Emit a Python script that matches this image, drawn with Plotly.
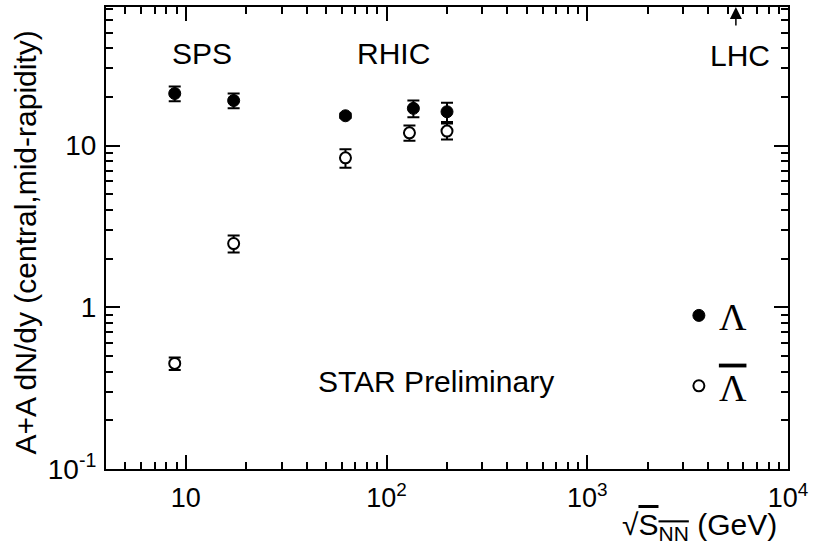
import plotly.graph_objects as go
import numpy as np

# sqrt(s_NN) in GeV
energy_lambda = [8.8, 17.3, 62.4, 136, 200]
lambda_yield = [21.0, 19.0, 15.3, 17.0, 16.2]
lambda_err = [2.2, 2.0, 0.5, 2.0, 2.2]

energy_alambda = [8.8, 17.3, 62.4, 130, 200]
alambda_yield = [0.45, 2.48, 8.4, 12.0, 12.3]
alambda_err = [0.04, 0.3, 1.1, 1.3, 1.4]

x_tickvals = [10, 100, 1000, 10000]
x_ticktext = ["10", "10<sup>2</sup>", "10<sup>3</sup>", "10<sup>4</sup>"]
y_tickvals = [0.1, 1, 10]
y_ticktext = ["10<sup>-1</sup>", "1", "10"]

lhc_energy = 5500

FONT = "Liberation Sans, Arial, sans-serif"
SERIF = "Liberation Serif, Times New Roman, serif"

fig = go.Figure()
fig.add_trace(go.Scatter(
    x=energy_lambda, y=lambda_yield, mode="markers", name="Λ",
    legendgroup="a",
    marker=dict(symbol="circle", size=12, color="black", line=dict(color="black", width=1)),
    error_y=dict(type="data", array=lambda_err, color="black", thickness=2, width=6),
))
fig.add_trace(go.Scatter(
    x=energy_alambda, y=alambda_yield, mode="markers",
    name="<span style='text-decoration:overline'>Λ</span>",
    legendgroup="b",
    marker=dict(symbol="circle", size=11, color="white", line=dict(color="black", width=2)),
    error_y=dict(type="data", array=alambda_err, color="black", thickness=2, width=6),
))

axis_common = dict(
    showline=True, linecolor="black", linewidth=2, mirror="allticks",
    ticks="inside", ticklen=14, tickwidth=2, tickcolor="black",
    showgrid=False, zeroline=False,
    ticklabeloverflow="allow",
)

fig.update_xaxes(
    type="log", range=[np.log10(4.0), 4],
    tickvals=x_tickvals, ticktext=x_ticktext,
    minor=dict(ticks="inside", ticklen=7, tickwidth=2, tickcolor="black", dtick="D1", showgrid=False),
    ticklabelstandoff=4,
    tickfont=dict(family=FONT, size=27, color="black"),
    **axis_common,
)
fig.update_yaxes(
    type="log", range=[-1, np.log10(72)],
    tickvals=y_tickvals, ticktext=y_ticktext,
    minor=dict(ticks="inside", ticklen=7, tickwidth=2, tickcolor="black", dtick="D1", showgrid=False),
    ticklabelstandoff=2,
    tickfont=dict(family=FONT, size=28, color="black"),
    **axis_common,
)

txt = dict(family=FONT, size=30, color="black")
annotations = [
    dict(text="SPS", x=0.141, y=0.899, xref="paper", yref="paper", showarrow=False,
         xanchor="center", yanchor="middle", font=txt),
    dict(text="RHIC", x=0.421, y=0.899, xref="paper", yref="paper", showarrow=False,
         xanchor="center", yanchor="middle", font=txt),
    dict(text="LHC", x=0.929, y=0.895, xref="paper", yref="paper", showarrow=False,
         xanchor="center", yanchor="middle", font=txt),
    dict(text="STAR Preliminary", x=0.484, y=0.19, xref="paper", yref="paper", showarrow=False,
         xanchor="center", yanchor="middle", font=txt),
    dict(text="A+A dN/dy (central,mid-rapidity)", x=-0.118, y=0.489, xref="paper", yref="paper",
         showarrow=False, textangle=-90, xanchor="center", yanchor="middle", font=txt),
    dict(text="√<span style='text-decoration:overline'>S<sub>NN</sub></span> (GeV)",
         x=0.987, y=-0.125, xref="paper", yref="paper", xanchor="right", yanchor="middle",
         showarrow=False, font=txt),
    dict(text="", x=np.log10(lhc_energy), y=1.0, xref="x", yref="paper",
         ax=0, ay=20, showarrow=True, arrowhead=2, arrowsize=1.6, arrowwidth=1.5, arrowcolor="black"),
]

fig.update_layout(
    width=813, height=549,
    margin=dict(l=106, r=21, t=5, b=80),
    paper_bgcolor="white", plot_bgcolor="white",
    annotations=annotations,
    showlegend=True,
    legend=dict(x=0.84, y=0.40, xanchor="left", yanchor="top",
                font=dict(family=SERIF, size=38, color="black"),
                bgcolor="rgba(0,0,0,0)", borderwidth=0,
                traceorder="grouped", tracegroupgap=18, itemwidth=30),
)

fig.write_html("out.html")
